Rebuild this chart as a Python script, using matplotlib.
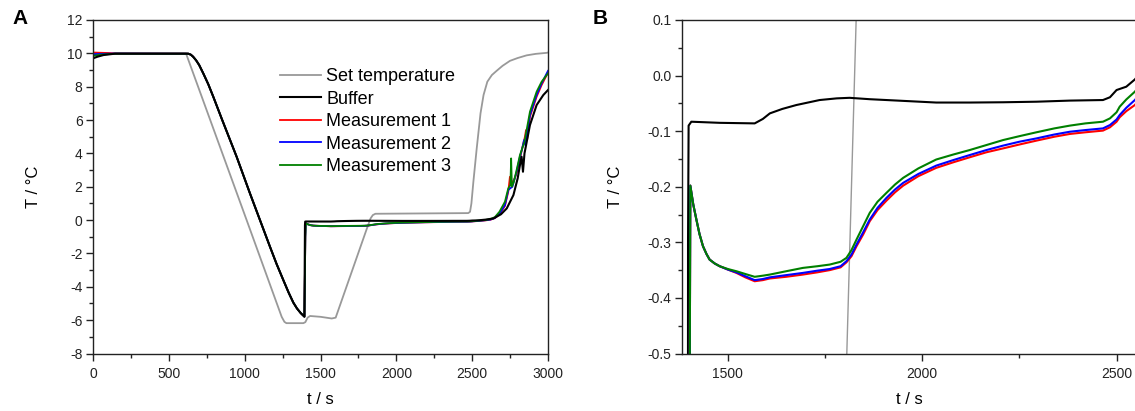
import numpy as np
import matplotlib
matplotlib.use('Agg')
import matplotlib.pyplot as plt
from matplotlib.ticker import MultipleLocator, FormatStrFormatter

plt.rcParams['font.family'] = ['Liberation Sans', 'DejaVu Sans']
plt.rcParams['axes.unicode_minus'] = False

# Set temperature (grey)
t_set = [0, 613, 1013, 1244, 1262, 1275, 1387, 1400, 1415, 1431, 1500, 1574, 1600,
         1806, 1830, 1845, 1862, 2474, 2486, 2495, 2508, 2530, 2555, 2575, 2600, 2630,
         2661, 2700, 2749, 2800, 2859, 2920, 2991, 3000]
T_set = [10, 10, 0, -5.8, -6.1, -6.18, -6.18, -6.12, -5.85, -5.75, -5.8, -5.9, -5.85,
         -0.5, 0.1, 0.3, 0.38, 0.42, 0.5, 1.0, 2.3, 4.3, 6.4, 7.5, 8.3, 8.7,
         8.95, 9.25, 9.55, 9.72, 9.88, 9.97, 10.03, 10.05]

# cooling ramp, shared by buffer and measurements (they overlap)
t_ramp = [628, 645, 660, 680, 700, 727, 760, 793, 850, 947, 1035, 1101, 1167, 1210,
          1255, 1290, 1321, 1345, 1370, 1394]
T_ramp = [9.98, 9.92, 9.8, 9.58, 9.3, 8.8, 8.15, 7.4, 6.05, 3.8, 1.6, 0.0, -1.6, -2.62,
          -3.6, -4.35, -4.95, -5.3, -5.58, -5.79]

# Buffer (black)
t_buf = [0, 30, 70, 145] + t_ramp + [
    1397.5, 1399, 1406, 1479, 1569, 1590, 1608, 1640, 1676, 1736, 1780, 1813, 1865, 1951,
    2036, 2122, 2208, 2294, 2380, 2465, 2483, 2500, 2525, 2547, 2590, 2640, 2690, 2728,
    2772, 2800, 2815, 2826, 2835, 2845, 2881, 2925, 2969, 3000]
T_buf = [9.7, 9.8, 9.9, 9.98] + T_ramp + [
    -0.3, -0.09, -0.083, -0.085, -0.086, -0.078, -0.068, -0.06, -0.053, -0.044, -0.041, -0.04, -0.0425, -0.0455,
    -0.0485, -0.0485, -0.048, -0.047, -0.045, -0.044, -0.039, -0.026, -0.02, -0.007, 0.03, 0.1, 0.35, 0.7,
    1.5, 2.5, 3.3, 3.8, 2.9, 4.0, 5.7, 6.9, 7.5, 7.8]

# time grid of the measurements after the jump at ~1400 s (panel B detail)
t_det = [1400, 1403.4, 1411, 1419, 1427, 1436, 1445, 1453, 1466, 1479, 1500, 1522, 1545,
         1569, 1590, 1608, 1650, 1693, 1730, 1762, 1790, 1805, 1818, 1831, 1848, 1865,
         1885, 1908, 1930, 1951, 1990, 2036, 2080, 2122, 2165, 2208, 2250, 2294, 2340,
         2380, 2420, 2465, 2483, 2500, 2508, 2525, 2547]

T_det_m1 = [-1.0, -0.198, -0.232, -0.259, -0.285, -0.307, -0.321, -0.331, -0.338, -0.343, -0.349, -0.355, -0.363,
            -0.370, -0.368, -0.365, -0.362, -0.358, -0.354, -0.350, -0.345, -0.336, -0.325, -0.307, -0.286, -0.262,
            -0.242, -0.225, -0.210, -0.198, -0.181, -0.166, -0.156, -0.147, -0.138, -0.131, -0.124, -0.117, -0.110,
            -0.105, -0.102, -0.099, -0.093, -0.083, -0.075, -0.064, -0.053]
T_det_m2 = [-1.0, -0.198, -0.232, -0.259, -0.285, -0.307, -0.321, -0.331, -0.338, -0.343, -0.349, -0.354, -0.361,
            -0.368, -0.366, -0.363, -0.359, -0.355, -0.351, -0.348, -0.343, -0.334, -0.322, -0.304, -0.282, -0.259,
            -0.238, -0.220, -0.205, -0.193, -0.177, -0.162, -0.152, -0.143, -0.134, -0.126, -0.119, -0.113, -0.106,
            -0.101, -0.098, -0.095, -0.089, -0.079, -0.071, -0.058, -0.044]
T_det_m3 = [-1.0, -0.198, -0.232, -0.259, -0.285, -0.307, -0.321, -0.331, -0.338, -0.343, -0.348, -0.352, -0.357,
            -0.362, -0.360, -0.358, -0.352, -0.346, -0.343, -0.340, -0.335, -0.328, -0.314, -0.295, -0.271, -0.247,
            -0.227, -0.211, -0.196, -0.184, -0.167, -0.151, -0.142, -0.134, -0.125, -0.116, -0.109, -0.102, -0.095,
            -0.090, -0.086, -0.083, -0.077, -0.066, -0.056, -0.043, -0.029]

# Measurement 1 (red)
t_m1 = [0, 100, 145] + t_ramp + t_det + [
    2580, 2620, 2650, 2680, 2716, 2738, 2749, 2756, 2775, 2793, 2815, 2835, 2848, 2855, 2862,
    2881, 2925, 2958, 3000]
T_m1 = [10.05, 10.02, 9.99] + T_ramp + T_det_m1 + [
    -0.025, 0.02, 0.12, 0.35, 0.85, 1.7, 2.6, 2.2, 2.4, 2.8, 3.7, 4.5, 5.0, 5.4, 4.8,
    6.2, 7.4, 8.1, 8.85]

# Measurement 2 (blue)
t_m2 = [0, 60, 145] + t_ramp + t_det + [
    2580, 2620, 2650, 2680, 2716, 2738, 2750, 2765, 2793, 2815, 2830, 2842, 2850, 2881, 2925,
    2958, 3000]
T_m2 = [9.95, 9.97, 9.99] + T_ramp + T_det_m2 + [
    -0.015, 0.03, 0.13, 0.38, 0.9, 1.8, 1.9, 2.0, 2.9, 3.8, 4.3, 4.8, 4.5, 6.3, 7.5,
    8.2, 8.95]

# Measurement 3 (green)
t_m3 = [0, 50, 145] + t_ramp + t_det + [
    2580, 2620, 2650, 2680, 2716, 2738, 2752, 2757, 2762, 2775, 2793, 2815, 2845, 2881, 2925,
    2958, 3000]
T_m3 = [9.85, 9.92, 9.98] + T_ramp + T_det_m3 + [
    0.0, 0.06, 0.18, 0.5, 1.1, 1.9, 2.1, 3.7, 2.0, 2.3, 3.0, 3.9, 4.7, 6.5, 7.7,
    8.3, 8.8]

series = [
    ("Measurement 1", t_m1, T_m1, "#ff0000"),
    ("Measurement 2", t_m2, T_m2, "#0000ff"),
    ("Measurement 3", t_m3, T_m3, "#008000"),
]

fig = plt.figure(figsize=(11.35, 4.11), dpi=100)
axA = fig.add_axes([93 / 1135, 1 - 353.5 / 411, 455 / 1135, 333.5 / 411])
axB = fig.add_axes([682 / 1135, 1 - 353.5 / 411, 454 / 1135, 333.5 / 411])


def style(ax):
    for sp in ax.spines.values():
        sp.set_linewidth(1.0)
        sp.set_color('#222222')
    ax.tick_params(which='major', direction='out', length=5, width=1.0, color='#222222',
                   labelsize=10, labelcolor='#222222', top=False, right=False)
    ax.tick_params(which='minor', direction='out', length=3, width=1.0, color='#222222',
                   top=False, right=False)
    ax.tick_params(axis='x', pad=5)
    ax.tick_params(axis='y', pad=2.5)


# panel A
lines = {}
lines['Set temperature'], = axA.plot(t_set, T_set, color='#999999', lw=1.3)
for name, t, T, c in series:
    lines[name], = axA.plot(t, T, color=c, lw=1.3)
lines['Buffer'], = axA.plot(t_buf, T_buf, color='black', lw=1.5)

axA.set_xlim(0, 3000)
axA.set_ylim(-8, 12)
axA.xaxis.set_major_locator(MultipleLocator(500))
axA.xaxis.set_minor_locator(MultipleLocator(250))
axA.yaxis.set_major_locator(MultipleLocator(2))
axA.yaxis.set_minor_locator(MultipleLocator(1))
style(axA)
axA.set_xlabel('t / s', fontsize=12)
axA.set_ylabel('T / °C', fontsize=12)
axA.xaxis.set_label_coords(0.5, -0.115)
axA.yaxis.set_label_coords(-0.114, 0.5)

order = ['Set temperature', 'Buffer', 'Measurement 1', 'Measurement 2', 'Measurement 3']
axA.legend([lines[k] for k in order], order, loc='upper left', bbox_to_anchor=(0.41, 0.855),
           frameon=False, fontsize=13, handlelength=2.3, handletextpad=0.3,
           labelspacing=0.3, borderpad=0, borderaxespad=0)

# panel B
axB.plot(t_set, T_set, color='#999999', lw=1.0)
axB.plot(t_buf, T_buf, color='black', lw=1.5)
for name, t, T, c in series:
    axB.plot(t, T, color=c, lw=1.5)
axB.set_xlim(1382, 2550)
axB.set_ylim(-0.5, 0.1)
axB.xaxis.set_major_locator(MultipleLocator(500))
axB.xaxis.set_minor_locator(MultipleLocator(250))
axB.yaxis.set_major_locator(MultipleLocator(0.1))
axB.yaxis.set_minor_locator(MultipleLocator(0.05))
axB.yaxis.set_major_formatter(FormatStrFormatter('%.1f'))
style(axB)
axB.set_xlabel('t / s', fontsize=12)
axB.set_ylabel('T / °C', fontsize=12)
axB.xaxis.set_label_coords(0.5, -0.115)
axB.yaxis.set_label_coords(-0.13, 0.5)

fig.text(12 / 1135, 1 - 24 / 411, 'A', fontsize=15, fontweight='bold', ha='left', va='baseline')
fig.text(593 / 1135, 1 - 24 / 411, 'B', fontsize=15, fontweight='bold', ha='left', va='baseline')

fig.savefig('out.png', dpi=100)
